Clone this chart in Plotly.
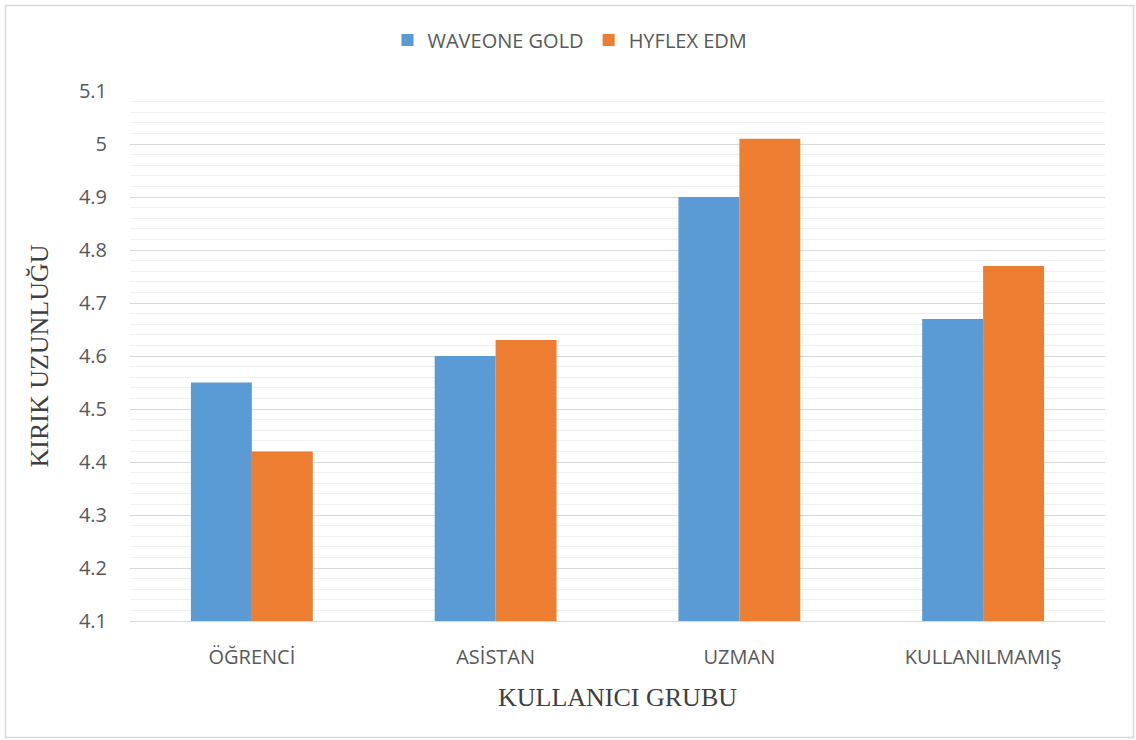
import plotly.graph_objects as go

categories = ["ÖĞRENCİ", "ASİSTAN", "UZMAN", "KULLANILMAMIŞ"]
waveone_gold = [4.55, 4.60, 4.90, 4.67]
hyflex_edm = [4.42, 4.63, 5.01, 4.77]
series_names = ["WAVEONE GOLD", "HYFLEX EDM"]

W, H = 1136, 740
L, R, T, B = 130, 31, 91, 119
pw, ph = W - L - R, H - T - B

fig = go.Figure()
fig.add_trace(go.Bar(x=categories, y=waveone_gold, name=series_names[0],
                     marker=dict(color="#5b9bd5", line=dict(width=0))))
fig.add_trace(go.Bar(x=categories, y=hyflex_edm, name=series_names[1],
                     marker=dict(color="#ed7d31", line=dict(width=0))))

tick_font = dict(family="Open Sans, sans-serif", size=20, color="#595959")
legend_font = dict(family="Open Sans, sans-serif", size=20, color="#595959")
title_font = dict(family="Liberation Serif, Times New Roman, serif", size=26, color="#404040")

def px_x(p):
    return (p - L) / pw

def px_y(p):
    return (H - B - p) / ph

fig.update_layout(
    width=W, height=H,
    margin=dict(l=L, r=R, t=T, b=B),
    paper_bgcolor="white", plot_bgcolor="white",
    barmode="group", bargap=0.5, bargroupgap=0,
    showlegend=True,
    legend=dict(orientation="h", x=px_x(570), xanchor="center", y=px_y(40), yanchor="middle",
                font=legend_font, itemwidth=30, traceorder="normal"),
    xaxis=dict(
        showgrid=False, showline=True, linecolor="#d9d9d9", linewidth=1,
        tickfont=tick_font, ticks="", ticklabelstandoff=18,
        title=dict(text="KULLANICI GRUBU", font=title_font, standoff=18),
    ),
    yaxis=dict(
        range=[4.1, 5.1], dtick=0.1, tick0=4.1,
        showgrid=True, gridcolor="#d9d9d9", gridwidth=1,
        zeroline=False, showline=False,
        tickfont=tick_font, ticks="", ticklabelstandoff=22,
        minor=dict(dtick=0.02, showgrid=True, gridcolor="#f0f0f0", gridwidth=1, ticks=""),
        title=dict(text="KIRIK UZUNLUĞU", font=title_font, standoff=22),
    ),
    shapes=[dict(type="rect", xref="paper", yref="paper",
                 x0=px_x(5.5), x1=px_x(1133.5), y0=px_y(737.5), y1=px_y(5.5),
                 line=dict(color="#d9d9d9", width=1.5), fillcolor="rgba(0,0,0,0)", layer="below")],
)

fig.write_html("out.html")
